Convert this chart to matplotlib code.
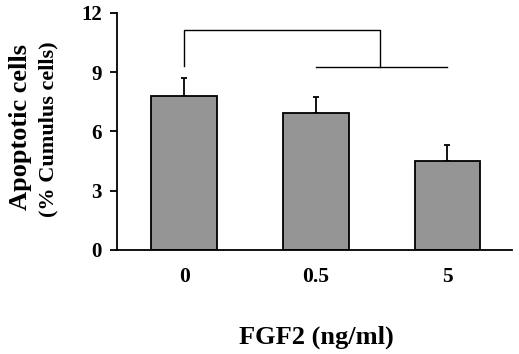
import matplotlib.pyplot as plt

# datos
dosis = ['0', '0.5', '5']
apoptosis = [7.77, 6.91, 4.48]
error = [0.95, 0.83, 0.83]
y_ticks = [0, 3, 6, 9, 12]

plt.rcParams['font.family'] = 'Liberation Serif'
plt.rcParams['font.weight'] = 'bold'

fig = plt.figure(figsize=(5.19, 3.54), dpi=100)
ax = fig.add_axes([0.2254, 0.2938, 0.7611, 0.6702])

x = range(len(dosis))
ax.bar(x, apoptosis, width=0.5, color='#959595', edgecolor='black', linewidth=1.3, zorder=2)
ax.errorbar(x, apoptosis, yerr=[[0] * len(error), error], fmt='none',
            ecolor='black', elinewidth=1.3, capsize=2.5, capthick=1.3, zorder=1)

# corchete de significancia
ax.plot([0, 0, 1.49, 1.49], [9.3, 11.15, 11.15, 9.25], color='black', lw=1.0)
ax.plot([1, 2], [9.25, 9.25], color='black', lw=1.0)

ax.set_xlim(-0.51, 2.49)
ax.set_ylim(0, 12)
ax.set_yticks(y_ticks)
ax.set_xticks(list(x))
ax.set_xticklabels(dosis, fontsize=15.5, fontweight='bold')
ax.tick_params(axis='y', labelsize=15, length=5, width=1.3, direction='out', pad=6)
ax.tick_params(axis='x', length=0, pad=12)
for lbl in ax.get_yticklabels():
    lbl.set_fontweight('bold')

ax.spines['top'].set_visible(False)
ax.spines['right'].set_visible(False)
ax.spines['left'].set_linewidth(1.3)
ax.spines['bottom'].set_linewidth(1.3)

fig.text(21 / 519, 1 - 127 / 354, 'Apoptotic cells', rotation=90, ha='center', va='center',
         fontsize=19, fontweight='bold')
fig.text(48 / 519, 1 - 129 / 354, '(% Cumulus cells)', rotation=90, ha='center', va='center',
         fontsize=16, fontweight='bold')
fig.text(316 / 519, 1 - 337 / 354, 'FGF2 (ng/ml)', ha='center', va='center',
         fontsize=19, fontweight='bold')

fig.savefig('out.png', dpi=100)
